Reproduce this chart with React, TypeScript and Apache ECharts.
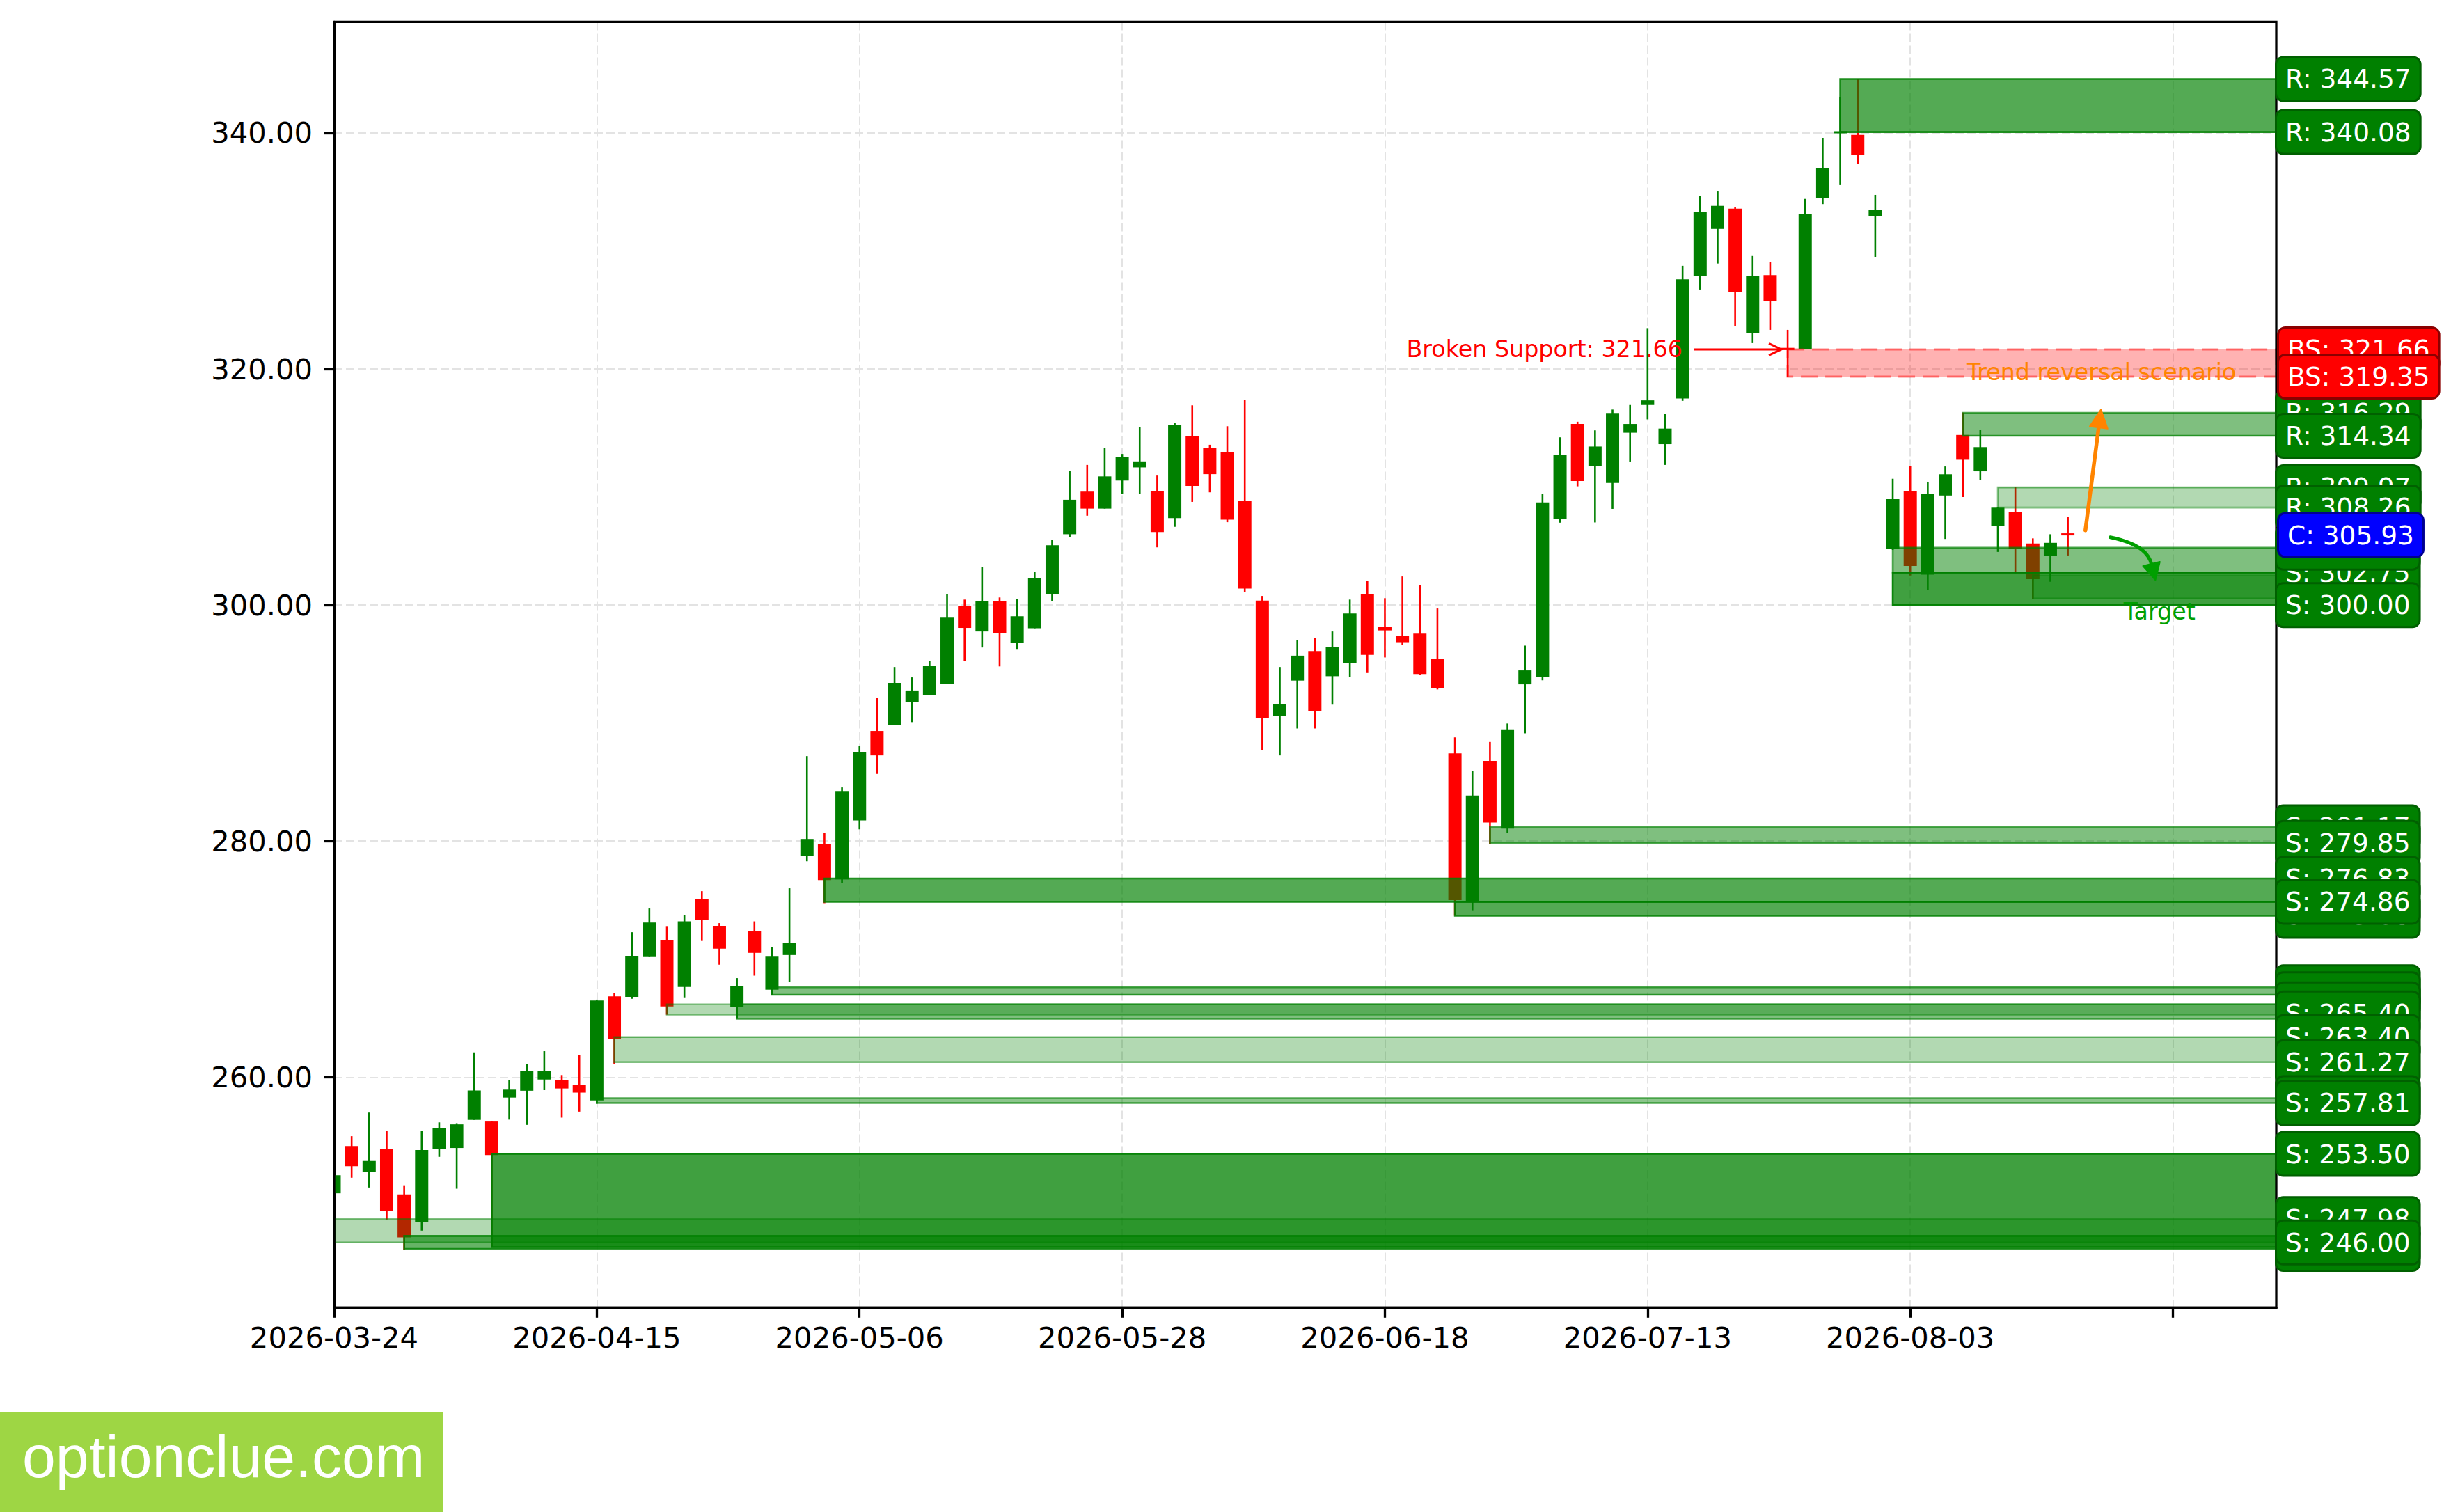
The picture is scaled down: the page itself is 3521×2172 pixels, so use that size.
import React, { useEffect, useRef } from 'react';
import * as echarts from 'echarts';

// ---------- data ----------
const tickDates = ['2026-03-24', '2026-04-15', '2026-05-06', '2026-05-28', '2026-06-18', '2026-07-13', '2026-08-03'];

const opens = [
  250.16, 254.17, 251.95, 253.94, 250.07, 247.75, 253.9, 254.0, 256.38, 256.24,
  258.27, 258.85, 259.8, 259.78, 259.32, 258.03, 266.85, 266.8, 270.18, 271.58,
  267.64, 275.1, 272.82, 265.94, 272.4, 267.41, 270.35, 278.74, 279.73, 276.75,
  281.75, 289.33, 289.87, 291.8, 292.4, 293.33, 299.89, 297.76, 300.31, 296.82,
  298.03, 300.92, 306.0, 309.61, 308.17, 310.55, 311.66, 309.67, 307.36, 314.28,
  313.28, 312.92, 308.8, 300.37, 290.6, 293.6, 296.1, 293.97, 295.11, 300.95,
  298.18, 297.37, 297.58, 295.41, 287.43, 274.9, 286.8, 281.06, 293.28, 293.92,
  307.27, 315.34, 311.77, 310.35, 314.6, 316.95, 313.63, 317.49, 327.9, 331.87,
  333.58, 323.02, 327.95, 321.79, 321.7, 334.46, 340.0, 339.84, 332.95, 304.73,
  309.67, 302.58, 309.28, 314.41, 311.33, 306.73, 307.86, 305.22, 304.14, 306.05,
];
const closes = [
  251.69, 252.45, 252.9, 248.63, 246.43, 253.82, 255.7, 256.0, 258.87, 253.4,
  258.94, 260.55, 260.55, 259.04, 258.69, 266.5, 263.21, 270.28, 273.1, 265.99,
  273.2, 273.31, 270.88, 267.69, 270.53, 270.21, 271.4, 280.18, 276.69, 284.25,
  287.56, 287.26, 293.4, 292.76, 294.87, 298.93, 298.06, 300.31, 297.64, 299.05,
  302.3, 305.07, 308.92, 308.17, 310.9, 312.56, 312.17, 306.18, 315.27, 310.09,
  311.09, 307.24, 301.4, 290.42, 291.62, 295.71, 291.02, 296.46, 299.29, 295.77,
  297.85, 296.85, 294.15, 292.97, 275.0, 283.86, 281.58, 289.47, 294.46, 308.69,
  312.75, 310.5, 313.43, 316.27, 315.34, 317.34, 314.95, 327.6, 333.33, 333.82,
  326.49, 327.86, 325.75, 321.6, 333.09, 337.0, 340.1, 338.13, 333.48, 308.98,
  303.31, 309.42, 311.08, 312.31, 313.38, 308.25, 304.78, 302.19, 305.27, 305.93,
];
const lows = [
  250.16, 251.48, 250.65, 247.94, 245.39, 247.0, 253.25, 250.55, 256.38, 245.6,
  256.4, 255.96, 258.9, 256.57, 257.08, 257.75, 261.13, 266.64, 270.18, 265.29,
  266.76, 271.54, 269.53, 264.94, 268.6, 266.92, 268.04, 278.29, 274.74, 276.42,
  281.0, 285.69, 289.87, 290.08, 292.4, 293.33, 295.29, 296.4, 294.8, 296.22,
  298.03, 300.31, 305.73, 307.57, 308.17, 309.43, 309.43, 304.89, 306.63, 308.74,
  309.55, 307.02, 301.07, 287.68, 287.26, 289.54, 289.54, 291.56, 293.9, 294.24,
  295.56, 296.64, 294.09, 292.85, 273.68, 274.14, 279.77, 280.67, 289.13, 293.63,
  306.98, 310.06, 307.0, 308.15, 312.16, 315.73, 311.87, 317.3, 326.73, 328.93,
  323.65, 322.19, 323.31, 319.3, 321.7, 333.97, 335.58, 337.34, 329.5, 304.67,
  302.5, 301.3, 305.6, 309.15, 310.62, 304.5, 302.7, 300.5, 301.97, 304.2,
];
const highs = [
  251.69, 255.0, 257.0, 255.47, 250.84, 255.47, 256.17, 256.1, 262.1, 256.3,
  259.76, 261.1, 262.2, 260.18, 261.9, 266.57, 267.15, 272.28, 274.29, 272.8,
  273.75, 275.76, 273.05, 268.39, 273.2, 271.05, 276.0, 287.2, 280.67, 284.55,
  288.04, 292.16, 294.75, 293.87, 295.29, 300.95, 300.46, 303.2, 300.64, 300.52,
  302.84, 305.55, 311.39, 311.87, 313.28, 312.8, 315.06, 310.97, 315.45, 316.92,
  313.58, 315.15, 317.4, 300.77, 294.75, 297.0, 297.22, 297.76, 300.46, 302.06,
  300.58, 302.42, 301.67, 299.71, 288.79, 285.96, 288.4, 289.96, 296.56, 309.42,
  314.21, 315.53, 314.8, 316.56, 316.95, 323.46, 316.22, 328.74, 334.65, 335.04,
  333.73, 329.57, 329.03, 323.31, 334.41, 339.59, 343.0, 344.58, 334.75, 310.7,
  311.8, 310.45, 311.74, 316.3, 314.83, 308.32, 309.97, 305.65, 306.0, 307.5,
];

// zones: start bar index, low, high, opacity, kind
const zoneStart = [86, 83, 93, 95, 89, 89, 97, 66, 28, 64, 25, 19, 23, 16, 15, 9, 0, 4];
const zoneLow = [340.08, 319.35, 314.34, 308.26, 302.75, 300.0, 300.55, 279.85, 274.86, 273.68, 266.98, 265.3, 264.95, 261.27, 257.81, 245.6, 246.0, 245.45];
const zoneHigh = [344.57, 321.66, 316.29, 309.97, 304.86, 302.75, 302.5, 281.17, 276.83, 274.86, 267.62, 266.17, 266.17, 263.4, 258.22, 253.5, 247.98, 246.55];
const zoneAlpha = [0.67, 0.3, 0.5, 0.3, 0.5, 0.75, 0.3, 0.5, 0.67, 0.67, 0.5, 0.3, 0.5, 0.3, 0.45, 0.75, 0.3, 0.6];
const zoneKind = ['R', 'BS', 'R', 'R', 'S', 'S', 'S', 'S', 'S', 'S', 'S', 'S', 'S', 'S', 'S', 'S', 'S', 'S'];

// price tags at right edge (drawing order)
const levelKind = ['R', 'R', 'R', 'R', 'R', 'R', 'BS', 'BS', 'S', 'S', 'S', 'S', 'S', 'S', 'S', 'S',
  'S', 'S', 'S', 'S', 'S', 'S', 'S', 'S', 'S', 'S', 'S', 'S', 'C'];
const levelPrice = [344.57, 340.08, 316.29, 314.34, 309.97, 308.26, 321.66, 319.35, 302.75, 304.86, 300.0, 281.17,
  279.85, 276.83, 273.68, 274.86, 267.62, 267.03, 266.17, 265.4, 263.4, 261.27, 258.22, 257.81, 253.5, 247.98,
  245.45, 246.0, 305.93];

// annotations
const brokenText = 'Broken Support: 321.66';
const brokenTextPos = [76.99, 321.71];
const brokenArrow = [[77.65, 321.66], [82.64, 321.66]];
const trendText = 'Trend reversal scenario';
const trendTextPos = [100.91, 319.71];
const trendArrow = [[100.0, 306.33], [100.89, 316.56]];
const targetText = 'Target';
const targetTextPos = [104.23, 299.44];
const targetArrow = [[101.42, 305.74], [104.0, 302.11]];

const yTickValues = [260, 280, 300, 320, 340];
const xTickValues = [0, 15, 30, 45, 60, 75, 90, 105];
const xLabelValues = [0, 15, 30, 45, 60, 75, 90];

const X_MIN = 0;
const X_MAX = 110.9;
const Y_MIN = 240.48;
const Y_MAX = 349.41;

const FONT = 'DejaVu Sans';
const GREEN = '#008000';
const RED = '#ff0000';
const ORANGE = '#ff8400';
const TGREEN = '#009f00';

function head(tip: number[], from: number[], len: number, width: number) {
  const dx = tip[0] - from[0];
  const dy = tip[1] - from[1];
  const d = Math.hypot(dx, dy) || 1;
  const ux = dx / d, uy = dy / d;
  const bx = tip[0] - ux * len, by = tip[1] - uy * len;
  const px = -uy, py = ux;
  return {
    pts: [[tip[0], tip[1]], [bx + (px * width) / 2, by + (py * width) / 2], [bx - (px * width) / 2, by - (py * width) / 2]],
    base: [bx, by],
  };
}

export default function App() {
  const ref = useRef<HTMLDivElement>(null);

  useEffect(() => {
    document.body.style.margin = '0';
    if (!ref.current) return;
    const chart = echarts.init(ref.current, undefined, { renderer: 'svg' });

    const candleData = opens.map((o, i) => [i, o, closes[i], lows[i], highs[i]]);
    const zoneData = zoneStart.map((s, i) => [s, zoneLow[i], zoneHigh[i]]);
    const levelData = levelPrice.map((p) => [X_MAX, p]);

    const option: any = {
      animation: false,
      backgroundColor: '#ffffff',
      grid: {
        left: 480,
        right: 251,
        top: 31.4,
        bottom: 293.7,
        containLabel: false,
        outerBoundsMode: 'none',
      },
      xAxis: {
        type: 'value',
        min: X_MIN,
        max: X_MAX,
        interval: 15,
        axisLine: { show: true, onZero: false, lineStyle: { color: '#000', width: 3.3 } },
        axisTick: { show: true, customValues: xTickValues, length: 14.5, lineStyle: { color: '#000', width: 3.3 } },
        axisLabel: {
          customValues: xLabelValues,
          formatter: (v: number) => {
            const k = Math.round(v / 15);
            return Math.abs(v - k * 15) < 1e-6 && k < tickDates.length ? tickDates[k] : '';
          },
          color: '#000',
          fontSize: 41.7,
          fontFamily: FONT,
          margin: 22,
        },
        splitLine: { show: true, lineStyle: { color: '#e3e3e3', width: 2, type: [12, 5] } },
      },
      yAxis: {
        type: 'value',
        min: Y_MIN,
        max: Y_MAX,
        scale: true,
        axisLine: { show: true, onZero: false, lineStyle: { color: '#000', width: 3.3 } },
        axisTick: { show: true, customValues: yTickValues, length: 14.5, lineStyle: { color: '#000', width: 3.3 } },
        axisLabel: {
          customValues: yTickValues,
          formatter: (v: number) => (Math.abs(v / 20 - Math.round(v / 20)) < 1e-6 ? v.toFixed(2) : ''),
          color: '#000',
          fontSize: 41.7,
          fontFamily: FONT,
          margin: 31,
        },
        splitLine: { show: true, lineStyle: { color: '#e3e3e3', width: 2, type: [12, 5] } },
      },
      series: [
        {
          type: 'custom',
          name: 'candles',
          z: 2,
          clip: true,
          data: candleData,
          encode: { x: 0, y: [1, 2, 3, 4] },
          renderItem: (params: any, api: any) => {
            const x = api.value(0);
            const o = api.value(1), c = api.value(2), l = api.value(3), h = api.value(4);
            const pO = api.coord([x, o]);
            const pC = api.coord([x, c]);
            const pL = api.coord([x, l]);
            const pH = api.coord([x, h]);
            const w = api.size([1, 0])[0] * 0.755;
            const color = c >= o ? GREEN : RED;
            let top = Math.min(pO[1], pC[1]);
            let bot = Math.max(pO[1], pC[1]);
            if (bot - top < 3) {
              const m = (top + bot) / 2;
              top = m - 1.5;
              bot = m + 1.5;
            }
            return {
              type: 'group',
              children: [
                { type: 'line', shape: { x1: pH[0], y1: pH[1], x2: pL[0], y2: pL[1] }, style: { stroke: color, lineWidth: 2.6 } },
                { type: 'rect', shape: { x: pO[0] - w / 2, y: top, width: w, height: bot - top }, style: { fill: color } },
              ],
            };
          },
        },
        {
          type: 'custom',
          name: 'zones',
          z: 3,
          clip: true,
          data: zoneData,
          encode: { x: 0, y: [1, 2] },
          renderItem: (params: any, api: any) => {
            const i = params.dataIndex;
            const s = api.value(0), lo = api.value(1), hi = api.value(2);
            const p1 = api.coord([s, hi]);
            const p2 = api.coord([X_MAX, lo]);
            const a = zoneAlpha[i];
            const bs = zoneKind[i] === 'BS';
            return {
              type: 'rect',
              shape: { x: p1[0], y: p1[1], width: p2[0] - p1[0], height: p2[1] - p1[1] },
              style: bs
                ? { fill: 'rgba(255,0,0,0.3)', stroke: 'rgba(255,0,0,0.45)', lineWidth: 3, lineDash: [24, 11] }
                : { fill: `rgba(0,128,0,${a})`, stroke: `rgba(0,128,0,${Math.min(1, a + 0.2)})`, lineWidth: 2.6 },
            };
          },
        },
        {
          type: 'custom',
          name: 'frame',
          z: 4,
          clip: false,
          data: [[X_MIN, Y_MIN]],
          encode: { x: 0, y: 1 },
          renderItem: (params: any) => {
            const cs = params.coordSys;
            return {
              type: 'rect',
              shape: { x: cs.x, y: cs.y, width: cs.width, height: cs.height },
              style: { fill: 'none', stroke: '#000', lineWidth: 3.3 },
            };
          },
        },
        {
          type: 'custom',
          name: 'levels',
          z: 5,
          clip: false,
          data: levelData,
          encode: { x: 0, y: 1 },
          renderItem: (params: any, api: any) => {
            const i = params.dataIndex;
            const kind = levelKind[i];
            const price = api.value(1);
            const p = api.coord([X_MAX, price]);
            let bg = GREEN, border = '#006000';
            let dx = 1;
            if (kind === 'BS') { bg = RED; border = '#8b0000'; dx = 4; }
            if (kind === 'C') { bg = '#0000ff'; border = '#000090'; dx = 4; }
            return {
              type: 'text',
              x: p[0] + dx,
              y: p[1],
              style: {
                text: `${kind}: ${price.toFixed(2)}`,
                fill: '#ffffff',
                fontSize: 37.5,
                fontFamily: FONT,
                lineHeight: 38,
                align: 'left',
                verticalAlign: 'middle',
                textAlign: 'left',
                textVerticalAlign: 'middle',
                backgroundColor: bg,
                borderColor: border,
                borderWidth: 3,
                borderRadius: 9,
                padding: [11, 12, 11, 12],
              },
            };
          },
        },
        {
          type: 'custom',
          name: 'annotations',
          z: 6,
          clip: false,
          data: [[trendTextPos[0], trendTextPos[1]]],
          encode: { x: 0, y: 1 },
          renderItem: (params: any, api: any) => {
            const children: any[] = [];
            // broken support
            const bt = api.coord(brokenTextPos);
            children.push({
              type: 'text', x: bt[0], y: bt[1],
              style: { text: brokenText, fill: RED, fontSize: 33.3, fontFamily: FONT, align: 'right', verticalAlign: 'middle', textAlign: 'right', textVerticalAlign: 'middle' },
            });
            const b0 = api.coord(brokenArrow[0]);
            const b1 = api.coord(brokenArrow[1]);
            children.push({ type: 'line', shape: { x1: b0[0], y1: b0[1], x2: b1[0], y2: b1[1] }, style: { stroke: RED, lineWidth: 3 } });
            const bh = head(b1, b0, 18, 17);
            children.push({ type: 'polyline', shape: { points: [bh.pts[1], bh.pts[0], bh.pts[2]] }, style: { stroke: RED, lineWidth: 3, fill: 'none' } });
            // trend reversal
            const tt = api.coord(trendTextPos);
            children.push({
              type: 'text', x: tt[0], y: tt[1],
              style: { text: trendText, fill: ORANGE, fontSize: 33.3, fontFamily: FONT, align: 'center', verticalAlign: 'middle', textAlign: 'center', textVerticalAlign: 'middle' },
            });
            const o0 = api.coord(trendArrow[0]);
            const o1 = api.coord(trendArrow[1]);
            const oh = head(o1, o0, 26, 26);
            children.push({ type: 'line', shape: { x1: o0[0], y1: o0[1], x2: oh.base[0], y2: oh.base[1] }, style: { stroke: ORANGE, lineWidth: 5.5, lineCap: 'round' } });
            children.push({ type: 'polygon', shape: { points: oh.pts }, style: { fill: ORANGE, stroke: ORANGE, lineWidth: 2, lineJoin: 'round' } });
            // target
            const g0 = api.coord(targetArrow[0]);
            const g1 = api.coord(targetArrow[1]);
            const mx = (g0[0] + g1[0]) / 2, my = (g0[1] + g1[1]) / 2;
            const ddx = g1[0] - g0[0], ddy = g1[1] - g0[1];
            const cp = [mx + 0.32 * ddy, my - 0.32 * ddx];
            const gh = head(g1, cp, 24, 25);
            children.push({
              type: 'bezierCurve',
              shape: { x1: g0[0], y1: g0[1], x2: gh.base[0], y2: gh.base[1], cpx1: cp[0], cpy1: cp[1] },
              style: { stroke: TGREEN, lineWidth: 5, fill: 'none', lineCap: 'round' },
            });
            children.push({ type: 'polygon', shape: { points: gh.pts }, style: { fill: TGREEN, stroke: TGREEN, lineWidth: 2, lineJoin: 'round' } });
            const gt = api.coord(targetTextPos);
            children.push({
              type: 'text', x: gt[0], y: gt[1],
              style: { text: targetText, fill: TGREEN, fontSize: 33.3, fontFamily: FONT, align: 'center', verticalAlign: 'middle', textAlign: 'center', textVerticalAlign: 'middle' },
            });
            return { type: 'group', children };
          },
        },
      ],
      graphic: [
        {
          type: 'rect',
          left: 0,
          top: 2028,
          shape: { width: 636, height: 144 },
          style: { fill: '#9ed644' },
          z: 10,
        },
        {
          type: 'text',
          x: 32,
          y: 2092,
          style: {
            text: 'optionclue.com',
            fill: '#ffffff',
            fontSize: 86,
            fontFamily: 'Liberation Sans',
            align: 'left',
            verticalAlign: 'middle',
            textAlign: 'left',
            textVerticalAlign: 'middle',
          },
          z: 11,
        },
      ],
    };

    chart.setOption(option);
    return () => {
      chart.dispose();
    };
  }, []);

  return (
    <div
      ref={ref}
      style={{ position: 'absolute', left: 0, top: 0, width: 3521, height: 2172, background: '#fff' }}
    />
  );
}
